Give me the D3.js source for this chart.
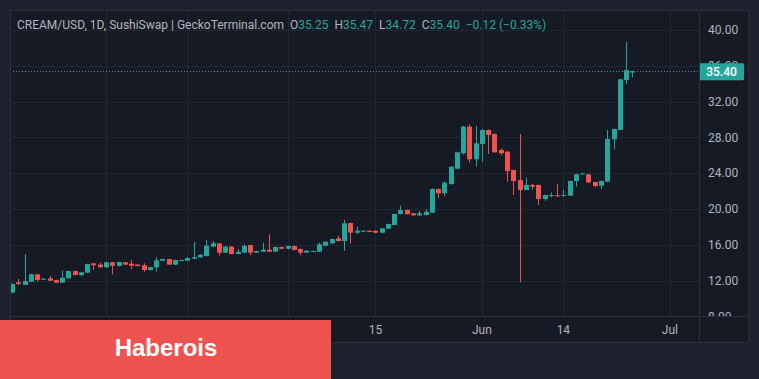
<!DOCTYPE html>
<html><head><meta charset="utf-8">
<script src="https://cdn.jsdelivr.net/npm/d3@7"></script>
<style>html,body{margin:0;padding:0;background:#1f222e;overflow:hidden}</style>
</head><body><svg id="c" width="759" height="379"></svg>
<script>
// ---- data (daily candles, index 0 = first bar) ----
const openV  = [10.66,11.82,11.52,11.89,12.71,12.15,12.27,12.08,11.78,12.27,13.08,12.63,12.89,13.94,13.79,13.50,14.05,13.64,14.05,13.90,
13.79,13.72,13.19,13.50,14.23,14.42,13.79,14.26,14.23,14.45,14.61,14.76,15.80,16.17,15.13,15.80,14.98,15.13,15.98,15.13,
15.24,15.46,15.24,15.76,15.57,15.87,15.54,15.13,15.24,15.24,15.91,16.17,16.73,16.43,18.44,17.36,17.47,17.58,17.58,17.36,
17.81,18.22,19.45,19.90,19.53,19.30,19.33,19.60,22.24,21.76,22.80,24.51,26.23,29.20,25.56,27.27,28.83,28.38,26.60,26.41,
24.36,23.25,22.13,22.69,22.69,21.12,21.46,21.53,21.46,21.49,23.13,23.88,23.88,23.02,22.60,23.06,27.79,28.83,34.41,35.25];
const highV  = [11.70,12.19,14.98,12.80,12.75,12.30,12.52,12.10,13.11,13.10,13.10,12.98,13.90,13.95,14.00,14.10,14.10,14.12,14.10,14.31,
13.85,13.94,13.55,14.61,14.45,14.45,14.35,14.35,14.60,16.32,14.95,16.54,16.43,16.20,15.85,15.85,15.54,16.06,16.00,15.35,
16.24,17.18,15.80,15.80,15.90,15.90,15.60,15.40,15.35,16.24,16.40,16.70,17.00,18.78,18.50,18.03,17.62,17.62,17.62,17.90,
18.38,19.50,20.38,19.95,19.55,19.78,20.00,22.30,22.30,23.10,24.80,26.40,29.30,29.47,29.28,28.94,28.90,28.45,26.79,26.50,
24.40,28.38,23.50,22.80,22.75,21.60,21.83,22.80,22.13,23.20,23.95,24.05,23.95,23.05,23.20,28.83,29.00,34.55,38.69,35.47];
const lowV   = [10.60,11.52,11.50,11.85,11.90,12.10,11.95,11.75,11.75,12.20,12.60,12.50,12.85,13.19,13.45,13.45,12.71,13.60,13.75,13.27,
13.60,13.00,13.15,13.00,14.20,13.75,13.75,14.22,14.20,14.40,14.55,14.70,15.75,14.79,15.10,14.95,14.95,15.10,14.83,15.10,
15.20,15.20,15.20,15.50,15.50,15.40,14.83,15.10,15.20,15.20,15.85,16.10,16.40,15.31,16.17,17.21,17.42,17.40,17.30,17.30,
17.78,18.20,19.40,19.40,19.25,19.25,19.30,19.55,21.20,21.46,22.70,24.45,26.10,25.22,24.73,25.29,26.15,26.30,26.04,23.05,
21.57,11.82,22.10,22.13,20.45,20.93,21.31,21.40,21.40,21.45,22.50,23.85,22.90,22.43,22.20,23.00,26.68,28.83,33.97,34.72];
const closeV = [11.63,11.63,11.96,12.71,12.08,12.22,12.00,11.78,12.33,13.08,12.63,12.94,13.86,13.72,13.50,14.05,13.67,14.09,13.79,13.67,
13.64,13.19,13.50,14.28,14.42,13.79,14.31,14.30,14.53,14.61,14.90,15.91,16.17,15.13,15.80,14.98,15.24,15.87,15.13,15.31,
15.46,15.24,15.76,15.57,15.87,15.42,15.13,15.35,15.31,16.06,16.36,16.66,16.43,18.41,17.36,17.58,17.58,17.44,17.36,17.85,
18.33,19.45,19.90,19.42,19.30,19.53,19.70,22.24,21.76,22.94,24.73,26.34,29.20,25.56,27.35,28.83,28.27,26.34,26.23,24.25,
23.13,22.13,22.69,22.50,21.12,21.57,21.57,21.46,21.57,23.13,23.88,23.99,22.97,22.58,23.13,27.83,28.94,34.49,35.52,35.40];

const priceTicks = [8,12,16,20,24,28,32,36,40];
const gridTickIdx = [15,28,44,58,75,88,105];
const timeTickIdx = [58,75,88,105];
const timeTickLabels = ["15","Jun","14","Jul"];
const lastPrice = 35.40;
const titleText = "CREAM/USD, 1D, SushiSwap | GeckoTerminal.com";
const ohlcLabels = ["O","H","L","C"];
const ohlcValues = ["35.25","35.47","34.72","35.40"];
const changeText = "\u22120.12 (\u22120.33%)";
const bannerText = "Haberois";

// ---- styles ----
const UP = "#26a69a", DOWN = "#ef5350";
const paneBg = "#161a25", grid = "#232734", border = "#2b2f3c", textCol = "#b2b5be";
const font = "Roboto, 'Noto Sans', sans-serif";

const svg = d3.select("#c");
const W = 759, H = 379;
const pane = {x0:10, y0:10, x1:699, y1:316};
const frame = {x1:749, y1:343};

svg.append("rect").attr("width",W).attr("height",H).attr("fill","#1f222e");
svg.append("rect").attr("x",pane.x0).attr("y",pane.y0)
  .attr("width",frame.x1-pane.x0).attr("height",frame.y1-pane.y0).attr("fill",paneBg);

const x = d3.scaleLinear().domain([0, closeV.length-1]).range([12, 632.3]);
const y = d3.scaleLinear().domain([8, 40]).range([316.5, 30]);

const defs = svg.append("defs");
defs.append("clipPath").attr("id","paneClip").append("rect")
  .attr("x",pane.x0).attr("y",pane.y0).attr("width",pane.x1-pane.x0).attr("height",pane.y1-pane.y0);
defs.append("clipPath").attr("id","axisClip").append("rect")
  .attr("x",pane.x1).attr("y",pane.y0).attr("width",frame.x1-pane.x1).attr("height",pane.y1-pane.y0);

// grid
const g = svg.append("g").attr("clip-path","url(#paneClip)");
g.selectAll(".hg").data(priceTicks).join("line")
  .attr("x1",pane.x0).attr("x2",pane.x1)
  .attr("y1",d=>Math.round(y(d))+0.5).attr("y2",d=>Math.round(y(d))+0.5)
  .attr("stroke",grid).attr("stroke-width",1);
g.selectAll(".vg").data(gridTickIdx).join("line")
  .attr("x1",d=>Math.round(x(d))+0.5).attr("x2",d=>Math.round(x(d))+0.5)
  .attr("y1",pane.y0).attr("y2",pane.y1)
  .attr("stroke",grid).attr("stroke-width",1);

// price line
g.append("line").attr("x1",pane.x0).attr("x2",pane.x1)
  .attr("y1",Math.round(y(lastPrice))+0.5).attr("y2",Math.round(y(lastPrice))+0.5)
  .attr("stroke",UP).attr("stroke-width",1).attr("stroke-dasharray","1 2");

// candles
const idx = d3.range(closeV.length);
const cg = g.append("g");
cg.selectAll(".wick").data(idx).join("line")
  .attr("x1",i=>Math.round(x(i))+0.5).attr("x2",i=>Math.round(x(i))+0.5)
  .attr("y1",i=>y(highV[i])).attr("y2",i=>y(lowV[i]))
  .attr("stroke",i=>closeV[i]>=openV[i]?UP:DOWN).attr("stroke-width",1);
cg.selectAll(".body").data(idx).join("rect")
  .attr("x",i=>Math.round(x(i))-2).attr("width",5)
  .attr("y",i=>y(Math.max(openV[i],closeV[i])))
  .attr("height",i=>Math.max(1, Math.abs(y(openV[i])-y(closeV[i]))))
  .attr("fill",i=>closeV[i]>=openV[i]?UP:DOWN);

// price axis labels
const ag = svg.append("g").attr("clip-path","url(#axisClip)");
ag.selectAll("text").data(priceTicks).join("text")
  .attr("x",708).attr("y",d=>y(d)).attr("dy","0.35em")
  .attr("font-family",font).attr("font-size",12).attr("fill",textCol)
  .text(d=>d3.format(".2f")(d));

// last price label
const ly = y(lastPrice);
svg.append("rect").attr("x",pane.x1).attr("y",ly-8).attr("width",45).attr("height",17)
  .attr("rx",1).attr("fill",UP);
svg.append("text").attr("x",pane.x1+22.5).attr("y",ly+0.5).attr("dy","0.35em")
  .attr("text-anchor","middle").attr("font-family",font).attr("font-size",12)
  .attr("font-weight",500).attr("fill","#ffffff").text(d3.format(".2f")(lastPrice));

// time axis labels
svg.selectAll(".tl").data(timeTickIdx).join("text")
  .attr("x",d=>x(d)).attr("y",330).attr("dy","0.35em").attr("text-anchor","middle")
  .attr("font-family",font).attr("font-size",12).attr("fill",textCol)
  .text((d,i)=>timeTickLabels[i]);

// frame lines
const fr = svg.append("g").attr("stroke",border).attr("stroke-width",1).attr("fill","none");
fr.append("rect").attr("x",pane.x0+0.5).attr("y",pane.y0+0.5)
  .attr("width",frame.x1-pane.x0-1).attr("height",frame.y1-pane.y0-1);
fr.append("line").attr("x1",pane.x1+0.5).attr("x2",pane.x1+0.5).attr("y1",pane.y0).attr("y2",frame.y1);
fr.append("line").attr("x1",pane.x0).attr("x2",frame.x1).attr("y1",pane.y1+0.5).attr("y2",pane.y1+0.5);

// header (flowed left to right)
const hdr = svg.append("g").attr("font-family",font).attr("font-size",12);
let cx = 17;
const tt = hdr.append("text").attr("x",cx).attr("y",29).attr("fill",textCol).text(titleText);
cx += tt.node().getComputedTextLength() + 6;
ohlcLabels.forEach((lab,i)=>{
  const t = hdr.append("text").attr("x",cx).attr("y",29);
  t.append("tspan").attr("fill",textCol).text(lab);
  t.append("tspan").attr("fill",UP).text(ohlcValues[i]);
  cx += t.node().getComputedTextLength() + 6;
});
hdr.append("text").attr("x",cx).attr("y",29).attr("fill",UP).text(changeText);

// banner
svg.append("rect").attr("x",0).attr("y",320).attr("width",331).attr("height",59).attr("fill","#ef5350");
svg.append("text").attr("x",166).attr("y",356).attr("text-anchor","middle")
  .attr("font-family","'Liberation Sans', Arial, sans-serif").attr("font-weight","bold")
  .attr("font-size",24).attr("fill","#ffffff").text(bannerText);
</script></body></html>
